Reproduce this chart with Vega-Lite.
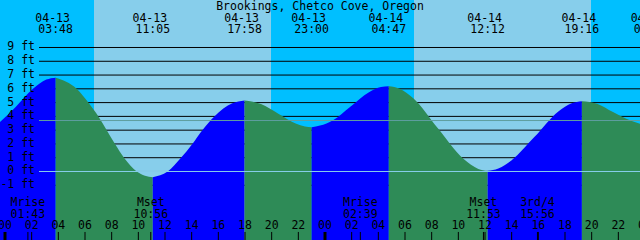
{
  "$schema": "https://vega.github.io/schema/vega-lite/v6.json",
  "width": 640,
  "height": 240,
  "autosize": "none",
  "padding": 0,
  "background": "#00BFFF",
  "config": {
    "view": {"stroke": null},
    "font": "DejaVu Sans Mono",
    "text": {"font": "DejaVu Sans Mono", "fontSize": 11.5, "color": "black"}
  },
  "datasets": {
    "light": [
      {"start": -0.375, "end": 6.675, "phase": "night"},
      {"start": 6.675, "end": 19.95, "phase": "day"},
      {"start": 19.95, "end": 30.675, "phase": "night"},
      {"start": 30.675, "end": 43.95, "phase": "day"},
      {"start": 43.95, "end": 47.625, "phase": "night"}
    ],
    "levels": [
      {"ft": -1, "label": "-1 ft"}, {"ft": 0, "label": "0 ft"}, {"ft": 1, "label": "1 ft"},
      {"ft": 2, "label": "2 ft"}, {"ft": 3, "label": "3 ft"}, {"ft": 4, "label": "4 ft"},
      {"ft": 5, "label": "5 ft"}, {"ft": 6, "label": "6 ft"}, {"ft": 7, "label": "7 ft"},
      {"ft": 8, "label": "8 ft"}, {"ft": 9, "label": "9 ft"}
    ],
    "hours": [
      {"h": 0, "label": "00"}, {"h": 2, "label": "02"}, {"h": 4, "label": "04"},
      {"h": 6, "label": "06"}, {"h": 8, "label": "08"}, {"h": 10, "label": "10"},
      {"h": 12, "label": "12"}, {"h": 14, "label": "14"}, {"h": 16, "label": "16"},
      {"h": 18, "label": "18"}, {"h": 20, "label": "20"}, {"h": 22, "label": "22"},
      {"h": 24, "label": "00"}, {"h": 26, "label": "02"}, {"h": 28, "label": "04"},
      {"h": 30, "label": "06"}, {"h": 32, "label": "08"}, {"h": 34, "label": "10"},
      {"h": 36, "label": "12"}, {"h": 38, "label": "14"}, {"h": 40, "label": "16"},
      {"h": 42, "label": "18"}, {"h": 44, "label": "20"}, {"h": 46, "label": "22"},
      {"h": 48, "label": "00"}
    ],
    "tide": [
      {"seg": 0, "dir": "rise", "h": -0.375, "ft": 3.59},
      {"seg": 0, "dir": "rise", "h": 0.8, "ft": 4.68},
      {"seg": 0, "dir": "rise", "h": 2.1, "ft": 6.0},
      {"seg": 0, "dir": "rise", "h": 3.1, "ft": 6.67},
      {"seg": 0, "dir": "rise", "h": 3.8, "ft": 6.81},

      {"seg": 1, "dir": "fall", "h": 3.8, "ft": 6.81},
      {"seg": 1, "dir": "fall", "h": 5.375, "ft": 6.0},
      {"seg": 1, "dir": "fall", "h": 6.25, "ft": 5.0},
      {"seg": 1, "dir": "fall", "h": 7.03, "ft": 3.95},
      {"seg": 1, "dir": "fall", "h": 7.63, "ft": 3.0},
      {"seg": 1, "dir": "fall", "h": 8.25, "ft": 2.0},
      {"seg": 1, "dir": "fall", "h": 8.925, "ft": 1.0},
      {"seg": 1, "dir": "fall", "h": 9.875, "ft": 0.0},
      {"seg": 1, "dir": "fall", "h": 10.5, "ft": -0.3},
      {"seg": 1, "dir": "fall", "h": 11.083, "ft": -0.41},

      {"seg": 2, "dir": "rise", "h": 11.083, "ft": -0.41},
      {"seg": 2, "dir": "rise", "h": 12.2, "ft": 0.0},
      {"seg": 2, "dir": "rise", "h": 13.2, "ft": 1.0},
      {"seg": 2, "dir": "rise", "h": 14.05, "ft": 2.0},
      {"seg": 2, "dir": "rise", "h": 14.8, "ft": 3.0},
      {"seg": 2, "dir": "rise", "h": 15.7, "ft": 4.0},
      {"seg": 2, "dir": "rise", "h": 17.05, "ft": 4.95},
      {"seg": 2, "dir": "rise", "h": 17.967, "ft": 5.16},

      {"seg": 3, "dir": "fall", "h": 17.967, "ft": 5.16},
      {"seg": 3, "dir": "fall", "h": 19.2, "ft": 4.89},
      {"seg": 3, "dir": "fall", "h": 20.5, "ft": 4.19},
      {"seg": 3, "dir": "fall", "h": 21.8, "ft": 3.48},
      {"seg": 3, "dir": "fall", "h": 22.5, "ft": 3.27},
      {"seg": 3, "dir": "fall", "h": 23.0, "ft": 3.22},

      {"seg": 4, "dir": "rise", "h": 23.0, "ft": 3.22},
      {"seg": 4, "dir": "rise", "h": 23.625, "ft": 3.33},
      {"seg": 4, "dir": "rise", "h": 24.6, "ft": 3.72},
      {"seg": 4, "dir": "rise", "h": 25.9, "ft": 4.7},
      {"seg": 4, "dir": "rise", "h": 27.3, "ft": 5.75},
      {"seg": 4, "dir": "rise", "h": 28.2, "ft": 6.13},
      {"seg": 4, "dir": "rise", "h": 28.783, "ft": 6.19},

      {"seg": 5, "dir": "fall", "h": 28.783, "ft": 6.19},
      {"seg": 5, "dir": "fall", "h": 29.6, "ft": 6.01},
      {"seg": 5, "dir": "fall", "h": 30.6, "ft": 5.33},
      {"seg": 5, "dir": "fall", "h": 32.45, "ft": 3.15},
      {"seg": 5, "dir": "fall", "h": 34.4, "ft": 0.9},
      {"seg": 5, "dir": "fall", "h": 35.5, "ft": 0.19},
      {"seg": 5, "dir": "fall", "h": 36.2, "ft": 0.05},

      {"seg": 6, "dir": "rise", "h": 36.2, "ft": 0.05},
      {"seg": 6, "dir": "rise", "h": 37.0, "ft": 0.21},
      {"seg": 6, "dir": "rise", "h": 38.0, "ft": 0.82},
      {"seg": 6, "dir": "rise", "h": 39.7, "ft": 2.5},
      {"seg": 6, "dir": "rise", "h": 41.5, "ft": 4.36},
      {"seg": 6, "dir": "rise", "h": 42.5, "ft": 4.95},
      {"seg": 6, "dir": "rise", "h": 43.267, "ft": 5.1},

      {"seg": 7, "dir": "fall", "h": 43.267, "ft": 5.1},
      {"seg": 7, "dir": "fall", "h": 44.4, "ft": 4.92},
      {"seg": 7, "dir": "fall", "h": 45.6, "ft": 4.31},
      {"seg": 7, "dir": "fall", "h": 46.6, "ft": 3.83},
      {"seg": 7, "dir": "fall", "h": 47.625, "ft": 3.47}
    ],
    "events": [
      {"h": 3.8, "date": "04-13", "time": "03:48"},
      {"h": 11.083, "date": "04-13", "time": "11:05"},
      {"h": 17.967, "date": "04-13", "time": "17:58"},
      {"h": 23.0, "date": "04-13", "time": "23:00"},
      {"h": 28.783, "date": "04-14", "time": "04:47"},
      {"h": 36.2, "date": "04-14", "time": "12:12"},
      {"h": 43.267, "date": "04-14", "time": "19:16"},
      {"h": 48.45, "date": "04-15", "time": "00:27"}
    ],
    "moon": [
      {"h": 1.717, "event": "Mrise", "time": "01:43"},
      {"h": 10.933, "event": "Mset", "time": "10:56"},
      {"h": 26.65, "event": "Mrise", "time": "02:39"},
      {"h": 35.883, "event": "Mset", "time": "11:53"},
      {"h": 39.933, "event": "3rd/4", "time": "15:56"}
    ],
    "title": [
      {"h": 23.625, "label": "Brookings, Chetco Cove, Oregon"}
    ]
  },
  "layer": [
    {
      "data": {"name": "light"},
      "mark": {"type": "rect"},
      "encoding": {
        "x": {
          "field": "start",
          "type": "quantitative",
          "scale": {"domain": [-0.375, 47.625], "nice": false, "zero": false},
          "axis": null
        },
        "x2": {"field": "end"},
        "color": {
          "field": "phase",
          "type": "nominal",
          "scale": {"domain": ["night", "day", "rise", "fall"], "range": ["#00BFFF", "#87CEEB", "#0000FF", "#2E8B57"]},
          "legend": null
        }
      }
    },
    {
      "data": {"name": "levels"},
      "mark": {"type": "rule", "color": "black", "strokeWidth": 1},
      "encoding": {
        "y": {
          "field": "ft",
          "type": "quantitative",
          "scale": {"domain": [-4.972, 12.447], "nice": false, "zero": false},
          "axis": null
        },
        "x": {"datum": 2.55, "axis": null},
        "x2": {"datum": 47.625}
      }
    },
    {
      "data": {"name": "tide"},
      "mark": {"type": "area", "interpolate": "monotone"},
      "encoding": {
        "x": {"field": "h", "type": "quantitative", "axis": null},
        "y": {"field": "ft", "type": "quantitative", "stack": null, "axis": null},
        "y2": {"datum": -4.972},
        "color": {"field": "dir", "type": "nominal", "legend": null},
        "detail": {"field": "seg"}
      }
    },
    {
      "data": {"values": [{"ft": 3.7}]},
      "mark": {"type": "rule", "color": "#5F9EA0", "strokeWidth": 1},
      "encoding": {
        "y": {"field": "ft", "type": "quantitative", "axis": null},
        "x": {"datum": 2.55, "axis": null},
        "x2": {"datum": 47.625}
      }
    },
    {
      "data": {"values": [{"ft": 0}]},
      "mark": {"type": "rule", "color": "#87CEEB", "strokeWidth": 1},
      "encoding": {
        "y": {"field": "ft", "type": "quantitative", "axis": null},
        "x": {"datum": 2.55, "axis": null},
        "x2": {"datum": 47.625}
      }
    },
    {
      "data": {"name": "levels"},
      "mark": {"type": "text", "baseline": "middle", "align": "right"},
      "encoding": {
        "x": {"datum": 2.25, "axis": null},
        "y": {"field": "ft", "type": "quantitative", "axis": null},
        "text": {"field": "label"}
      }
    },
    {
      "data": {"name": "hours"},
      "mark": {"type": "rule", "color": "black", "strokeWidth": 1},
      "encoding": {
        "x": {"field": "h", "type": "quantitative", "axis": null},
        "y": {"datum": -4.972, "axis": null},
        "y2": {"datum": -4.39}
      }
    },
    {
      "data": {"name": "hours"},
      "transform": [{"filter": "datum.h % 24 == 0"}],
      "mark": {"type": "rule", "color": "black", "strokeWidth": 3},
      "encoding": {
        "x": {"field": "h", "type": "quantitative", "axis": null},
        "y": {"datum": -4.972, "axis": null},
        "y2": {"datum": -4.39}
      }
    },
    {
      "data": {"name": "moon"},
      "mark": {"type": "rule", "color": "black", "strokeWidth": 1},
      "encoding": {
        "x": {"field": "h", "type": "quantitative", "axis": null},
        "y": {"datum": -4.972, "axis": null},
        "y2": {"datum": -4.39}
      }
    },
    {
      "data": {"name": "hours"},
      "mark": {"type": "text", "baseline": "alphabetic", "align": "center"},
      "encoding": {
        "x": {"field": "h", "type": "quantitative", "axis": null},
        "y": {"datum": -4.195, "axis": null},
        "text": {"field": "label"}
      }
    },
    {
      "data": {"name": "title"},
      "mark": {"type": "text", "baseline": "alphabetic", "align": "center"},
      "encoding": {
        "x": {"field": "h", "type": "quantitative", "axis": null},
        "y": {"datum": 11.72, "axis": null},
        "text": {"field": "label"}
      }
    },
    {
      "data": {"name": "events"},
      "mark": {"type": "text", "baseline": "alphabetic", "align": "center", "dx": -3},
      "encoding": {
        "x": {"field": "h", "type": "quantitative", "axis": null},
        "y": {"datum": 10.86, "axis": null},
        "text": {"field": "date"}
      }
    },
    {
      "data": {"name": "events"},
      "mark": {"type": "text", "baseline": "alphabetic", "align": "center"},
      "encoding": {
        "x": {"field": "h", "type": "quantitative", "axis": null},
        "y": {"datum": 10.03, "axis": null},
        "text": {"field": "time"}
      }
    },
    {
      "data": {"name": "moon"},
      "mark": {"type": "text", "baseline": "alphabetic", "align": "center"},
      "encoding": {
        "x": {"field": "h", "type": "quantitative", "axis": null},
        "y": {"datum": -2.5, "axis": null},
        "text": {"field": "event"}
      }
    },
    {
      "data": {"name": "moon"},
      "mark": {"type": "text", "baseline": "alphabetic", "align": "center"},
      "encoding": {
        "x": {"field": "h", "type": "quantitative", "axis": null},
        "y": {"datum": -3.4, "axis": null},
        "text": {"field": "time"}
      }
    }
  ]
}
